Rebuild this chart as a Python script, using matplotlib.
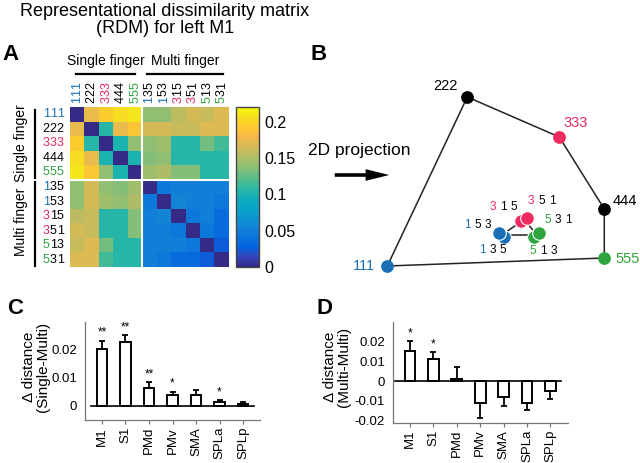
import matplotlib
matplotlib.use('Agg')
import matplotlib.pyplot as plt
import numpy as np
from matplotlib.colors import LinearSegmentedColormap
from matplotlib.transforms import offset_copy
from matplotlib.patches import FancyArrowPatch

plt.rcParams['font.family'] = ['Liberation Sans', 'DejaVu Sans']

# ---------------- data ----------------
labels = ['111', '222', '333', '444', '555', '135', '153', '315', '351', '513', '531']
rdm = [
    [0.000, 0.175, 0.195, 0.205, 0.210, 0.140, 0.140, 0.155, 0.165, 0.160, 0.170],
    [0.175, 0.000, 0.105, 0.175, 0.190, 0.165, 0.165, 0.160, 0.160, 0.170, 0.170],
    [0.195, 0.105, 0.000, 0.100, 0.140, 0.140, 0.145, 0.105, 0.105, 0.130, 0.115],
    [0.205, 0.175, 0.100, 0.000, 0.100, 0.135, 0.140, 0.105, 0.105, 0.105, 0.105],
    [0.210, 0.190, 0.140, 0.100, 0.000, 0.145, 0.150, 0.135, 0.135, 0.105, 0.105],
    [0.140, 0.165, 0.140, 0.135, 0.145, 0.000, 0.045, 0.050, 0.050, 0.050, 0.050],
    [0.140, 0.165, 0.145, 0.140, 0.150, 0.045, 0.000, 0.055, 0.050, 0.050, 0.045],
    [0.155, 0.160, 0.105, 0.105, 0.135, 0.050, 0.055, 0.000, 0.045, 0.050, 0.035],
    [0.165, 0.160, 0.105, 0.105, 0.135, 0.050, 0.050, 0.045, 0.000, 0.045, 0.035],
    [0.160, 0.170, 0.130, 0.105, 0.105, 0.050, 0.050, 0.050, 0.045, 0.000, 0.025],
    [0.170, 0.170, 0.115, 0.105, 0.105, 0.050, 0.045, 0.035, 0.035, 0.025, 0.000],
]
cbar_ticks = [0, 0.05, 0.1, 0.15, 0.2]
cbar_ticklabels = ['0', '0.05', '0.1', '0.15', '0.2']

# 2D projection coordinates (arbitrary units)
proj_labels = ['111', '222', '333', '444', '555', '135', '153', '315', '351', '513', '531']
proj_x = [0.00, 0.80, 1.72, 2.17, 2.17, 1.17, 1.12, 1.34, 1.40, 1.47, 1.52]
proj_y = [0.00, 1.69, 1.29, 0.57, 0.08, 0.29, 0.33, 0.45, 0.48, 0.29, 0.33]

regions = ['M1', 'S1', 'PMd', 'PMv', 'SMA', 'SPLa', 'SPLp']
c_vals = [0.0203, 0.0227, 0.0066, 0.0038, 0.0038, 0.0014, 0.0006]
c_err = [0.0030, 0.0026, 0.0019, 0.0013, 0.0020, 0.0007, 0.0007]
c_stars = ['**', '**', '**', '*', '', '*', '']
d_vals = [0.0150, 0.0110, 0.0013, -0.0110, -0.0080, -0.0110, -0.0051]
d_err = [0.0052, 0.0035, 0.0060, 0.0075, 0.0047, 0.0036, 0.0041]
d_stars = ['*', '*', '', '', '', '', '']

# ---------------- style ----------------
BLUE = '#1a6fb5'
RED = '#ec2a5e'
GREEN = '#2fa540'
digit_color = {'1': BLUE, '2': 'black', '3': RED, '4': 'black', '5': GREEN}

parula_pts = [
    (0.2081, 0.1663, 0.5292), (0.1959, 0.2645, 0.7279), (0.0117, 0.3875, 0.8820),
    (0.0498, 0.4586, 0.8641), (0.0793, 0.5200, 0.8312), (0.0343, 0.5966, 0.8199),
    (0.0228, 0.6535, 0.7768), (0.0843, 0.6928, 0.7062), (0.2178, 0.7250, 0.6193),
    (0.3953, 0.7459, 0.5244), (0.5709, 0.7485, 0.4494), (0.7184, 0.7411, 0.3905),
    (0.8507, 0.7299, 0.3360), (0.9739, 0.7314, 0.2666), (0.9880, 0.8066, 0.1794),
    (0.9589, 0.8949, 0.1132), (0.9763, 0.9831, 0.0538)]
pos = [0, 4, 8, 12, 16, 20, 24, 28, 32, 36, 40, 44, 48, 52, 56, 60, 63]
parula = LinearSegmentedColormap.from_list('parula', [(p / 63, c) for p, c in zip(pos, parula_pts)])

W, H = 640, 463
fig = plt.figure(figsize=(W / 100, H / 100), dpi=100)


def fx(px):
    return px / W


def fy(py):
    return 1 - py / H


def label_colors(lab):
    first = digit_color[lab[0]]
    rest = first if len(set(lab)) == 1 else 'black'
    return [first] + [rest] * (len(lab) - 1)


def draw_digits(ax, x, y, trans, text, colors, dx0, dy0, step, horiz=True,
                fontsize=9, rotation=0):
    for i, (ch, col) in enumerate(zip(text, colors)):
        if horiz:
            ox, oy = dx0 + i * step, dy0
        else:
            ox, oy = dx0, dy0 + i * step
        t = offset_copy(trans, fig=fig, x=ox, y=oy, units='points')
        ax.text(x, y, ch, transform=t, color=col, fontsize=fontsize,
                ha='center', va='center', rotation=rotation, clip_on=False)


# ---------------- title & panel letters ----------------
fig.text(fx(165), fy(20), 'Representational dissimilarity matrix\n(RDM) for left M1',
         ha='center', va='center', fontsize=13, linespacing=1.05)
for letter, (lx, ly) in {'A': (2, 54), 'B': (310, 54), 'C': (7, 309), 'D': (316, 309)}.items():
    fig.text(fx(lx), fy(ly), letter, fontsize=16, fontweight='bold', ha='left', va='center')

# ---------------- panel A ----------------
axA = fig.add_axes([fx(70), fy(267), 159 / W, 160 / H])
im = axA.imshow(np.array(rdm), cmap=parula, vmin=0, vmax=0.22, aspect='auto',
                interpolation='nearest')
axA.set_xticks([])
axA.set_yticks([])
for s in axA.spines.values():
    s.set_visible(False)
n_single = 5
axA.axhline(n_single - 0.5, color='white', lw=1.5)
axA.axvline(n_single - 0.5, color='white', lw=1.5)

fs_lab = 9
w = 0.556 * fs_lab
for k, lab in enumerate(labels):
    cols = label_colors(lab)
    # row labels (right-aligned left of matrix)
    draw_digits(axA, 0, k, axA.get_yaxis_transform(), lab, cols,
                dx0=-(4.6 + (len(lab) - 0.5) * w), dy0=0, step=w, horiz=True, fontsize=fs_lab)
    # column labels (rotated, above matrix)
    draw_digits(axA, k, 1, axA.get_xaxis_transform(), lab, cols,
                dx0=0, dy0=2.8 + 0.5 * w, step=w, horiz=False, fontsize=fs_lab, rotation=90)

tx = axA.get_xaxis_transform()
ty = axA.get_yaxis_transform()
axA.plot([-0.1, 4.0], [1.206, 1.206], color='black', lw=1.6, transform=tx, clip_on=False)
axA.plot([4.8, 10.1], [1.206, 1.206], color='black', lw=1.6, transform=tx, clip_on=False)
axA.text(1.95, 1.29, 'Single finger', transform=tx, ha='center', va='center', fontsize=10)
axA.text(7.5, 1.29, 'Multi finger', transform=tx, ha='center', va='center', fontsize=10)
axA.plot([-0.22, -0.22], [-0.3, 4.4], color='black', lw=1.6, transform=ty, clip_on=False)
axA.plot([-0.22, -0.22], [4.65, 10.4], color='black', lw=1.6, transform=ty, clip_on=False)
axA.text(-0.31, 2.0, 'Single finger', transform=ty, ha='center', va='center',
         rotation=90, fontsize=10)
axA.text(-0.31, 7.4, 'Multi finger', transform=ty, ha='center', va='center',
         rotation=90, fontsize=10)

cax = fig.add_axes([fx(236), fy(267), 23 / W, 160 / H])
cb = fig.colorbar(im, cax=cax, ticks=cbar_ticks)
cb.ax.set_yticklabels(cbar_ticklabels)
cb.ax.tick_params(length=0, pad=4, labelsize=11.5)
cb.outline.set_edgecolor('#444444')
cb.outline.set_linewidth(1.0)

# ---------------- panel B ----------------
axB = fig.add_axes([fx(320), fy(300), 320 / W, 240 / H])
axB.set_xlim((320 - 387.3) / 100, (640 - 387.3) / 100)
axB.set_ylim((266 - 300) / 100, (266 - 60) / 100)
axB.axis('off')

idx = {lab: i for i, lab in enumerate(proj_labels)}
outer = ['111', '222', '333', '444', '555', '111']
axB.plot([proj_x[idx[l]] for l in outer], [proj_y[idx[l]] for l in outer],
         color='#222222', lw=1.1, zorder=1)
groups = [['135', '153'], ['315', '351'], ['513', '531']]
cx = [np.mean([proj_x[idx[l]] for l in g]) for g in groups]
cy = [np.mean([proj_y[idx[l]] for l in g]) for g in groups]
axB.plot(cx + [cx[0]], cy + [cy[0]], color='#222222', lw=1.1, zorder=1)

for lab in proj_labels:
    i = idx[lab]
    col = digit_color[lab[0]]
    big = len(set(lab)) == 1
    axB.plot(proj_x[i], proj_y[i], 'o', color=col, ms=9.2 if big else 9.8,
             mec='white' if not big else col, mew=0.8 if not big else 0, zorder=3)

big_offsets = {'111': (-8.9, 0, 'right'), '222': (-7, 8.1, 'right'),
               '333': (2.7, 10.2, 'left'), '444': (6.3, 5.8, 'left'),
               '555': (7.7, -0.5, 'left')}
for lab, (ox, oy, ha) in big_offsets.items():
    i = idx[lab]
    t = offset_copy(axB.transData, fig=fig, x=ox, y=oy, units='points')
    axB.text(proj_x[i], proj_y[i], lab, transform=t, ha=ha, va='center',
             fontsize=10.5, color=digit_color[lab[0]])

small_offsets = {'153': (-23.3, 6.0), '315': (-20.2, 10.1), '351': (2.7, 12.0),
                 '531': (5.9, 9.1), '135': (-16.1, -9.6), '513': (-1.1, -10.1)}
for lab, (ox, oy) in small_offsets.items():
    i = idx[lab]
    draw_digits(axB, proj_x[i], proj_y[i], axB.transData, lab, label_colors(lab),
                dx0=ox, dy0=oy, step=7.5, horiz=True, fontsize=8.5)

fig.text(fx(308), fy(150), '2D projection', ha='left', va='center', fontsize=12.5)
arrow = FancyArrowPatch((fx(332), fy(175)), (fx(392), fy(175)), transform=fig.transFigure,
                        arrowstyle='simple,head_length=0.85,head_width=0.42,tail_width=0.13',
                        mutation_scale=20, color='black', lw=0)
fig.add_artist(arrow)


# ---------------- panels C & D ----------------
def bar_panel(rect, vals, errs, stars, ylim, yticks, yticklabels, xlim, zero_ext, ylabel, ylab_pos):
    ax = fig.add_axes(rect)
    x = np.arange(len(regions))
    ax.bar(x, vals, width=0.46, facecolor='white', edgecolor='black', lw=1.4, zorder=2)
    v = np.array(vals)
    e = np.array(errs)
    lo = np.where(v < 0, e, 0)
    hi = np.where(v >= 0, e, 0)
    ax.errorbar(x, v, yerr=[lo, hi], fmt='none', ecolor='black', elinewidth=1.3,
                capsize=2.3, capthick=1.3, zorder=1)
    ax.plot(zero_ext, [0, 0], color='black', lw=1.2, zorder=3)
    for xi, vi, ei, st in zip(x, v, e, stars):
        if st:
            t = offset_copy(ax.transData, fig=fig, x=0, y=1.5, units='points')
            ax.text(xi, vi + ei, st, transform=t, ha='center', va='bottom', fontsize=8.5)
    ax.set_xlim(*xlim)
    ax.set_ylim(*ylim)
    ax.set_yticks(yticks)
    ax.set_yticklabels(yticklabels)
    ax.set_xticks(x)
    ax.set_xticklabels(regions, rotation=90)
    for s in ['top', 'right']:
        ax.spines[s].set_visible(False)
    for s in ['left', 'bottom']:
        ax.spines[s].set_color('#777777')
        ax.spines[s].set_linewidth(0.9)
    ax.tick_params(axis='y', length=0, pad=5.5, labelsize=9.5)
    ax.tick_params(axis='x', length=3, width=0.9, color='#777777', pad=2, labelsize=9.5)
    fig.text(fx(ylab_pos[0]), fy(ylab_pos[1]), ylabel, rotation=90, ha='center', va='center',
             fontsize=11, multialignment='center', linespacing=1.0)
    return ax


bar_panel([fx(85), fy(420), 175 / W, 98 / H], c_vals, c_err, c_stars,
          (-0.005, 0.03), [0, 0.01, 0.02], ['0', '0.01', '0.02'], (-0.72, 6.72),
          [-0.45, 6.45], 'Δ distance\n(Single-Multi)', (36, 367))
bar_panel([fx(392.7), fy(422.7), 175.3 / W, 101 / H], d_vals, d_err, d_stars,
          (-0.021, 0.03), [-0.02, -0.01, 0, 0.01, 0.02],
          ['-0.02', '-0.01', '0', '0.01', '0.02'], (-0.74, 6.75),
          [-0.64, 6.44], 'Δ distance\n(Multi-Multi)', (337, 367))

fig.savefig('out.png', dpi=100)
